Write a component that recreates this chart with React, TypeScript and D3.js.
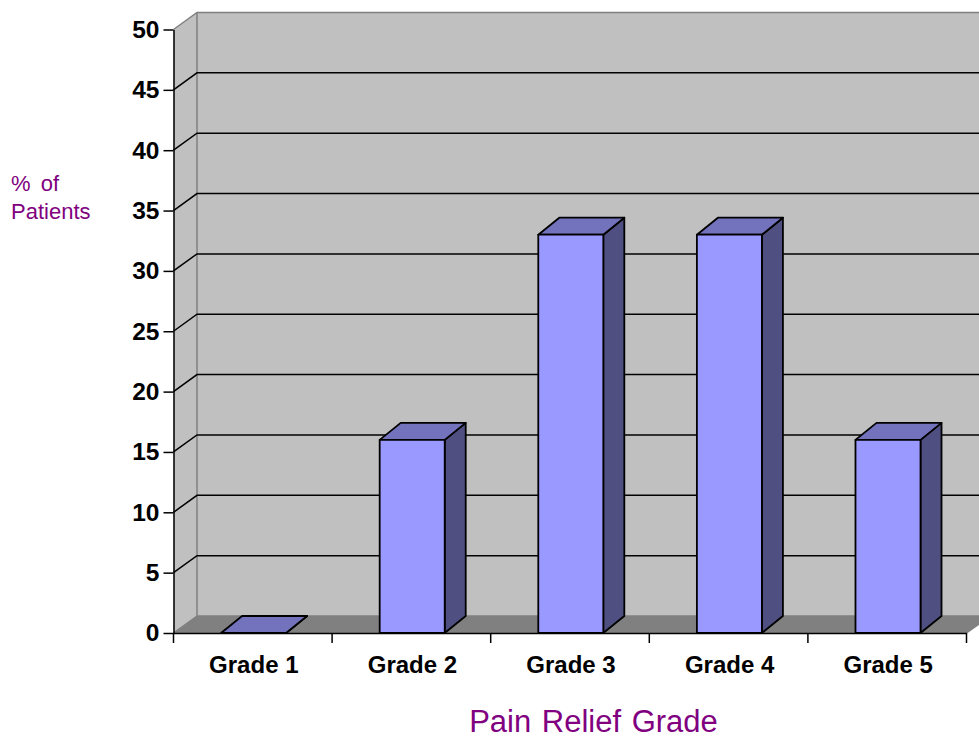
import React, { useRef, useEffect } from 'react';
import * as d3 from 'd3';

const grades: string[] = ['Grade 1', 'Grade 2', 'Grade 3', 'Grade 4', 'Grade 5'];
const patients: number[] = [0, 16, 33, 33, 16];
const yTicks: number[] = [0, 5, 10, 15, 20, 25, 30, 35, 40, 45, 50];

const App: React.FC = () => {
  const ref = useRef<SVGSVGElement | null>(null);

  useEffect(() => {
    if (!ref.current) return;
    const svg = d3.select(ref.current);
    svg.selectAll('*').remove();

    const width = 979;
    const height = 736;
    const left = 173.5;
    const right = 966.5;
    const bottom = 633;
    const top = 29.5;
    const wallDx = 23.5;
    const wallDy = 17;
    const barDx = 21;
    const barDy = 17;
    const barShift = 0.8;
    const font = '"Liberation Sans", Arial, sans-serif';

    const x = d3.scaleBand<string>()
      .domain(grades)
      .range([left, right])
      .paddingInner(0.59)
      .paddingOuter(0.295);

    const y = d3.scaleLinear()
      .domain([0, 50])
      .range([bottom, top]);

    const poly = (pts: [number, number][]) => d3.line()(pts) + 'Z';

    svg.attr('viewBox', [0, 0, width, height].join(' '))
      .attr('width', width)
      .attr('height', height)
      .style('position', 'absolute')
      .style('left', 0)
      .style('top', 0)
      .style('background', '#fff');

    // walls and floor
    svg.append('path')
      .attr('d', poly([[left + wallDx, top - wallDy], [right + wallDx, top - wallDy], [right + wallDx, bottom - wallDy], [left + wallDx, bottom - wallDy]]))
      .attr('fill', '#c0c0c0');
    svg.append('path')
      .attr('d', poly([[left, top], [left + wallDx, top - wallDy], [left + wallDx, bottom - wallDy], [left, bottom]]))
      .attr('fill', '#c0c0c0');
    svg.append('path')
      .attr('d', poly([[left, bottom], [left + wallDx, bottom - wallDy], [right + wallDx, bottom - wallDy], [right, bottom]]))
      .attr('fill', '#808080');

    // grey outlines of the box
    svg.append('path')
      .attr('d', d3.line()([[left, top], [left + wallDx, top - wallDy], [right + wallDx, top - wallDy]]))
      .attr('fill', 'none')
      .attr('stroke', '#808080')
      .attr('stroke-width', 1.5);
    svg.append('path')
      .attr('d', d3.line()([[left + wallDx, top - wallDy], [left + wallDx, bottom - wallDy], [left, bottom]]))
      .attr('fill', 'none')
      .attr('stroke', '#808080')
      .attr('stroke-width', 1.5);
    svg.append('path')
      .attr('d', d3.line()([[left + wallDx, bottom - wallDy], [right + wallDx, bottom - wallDy], [right, bottom]]))
      .attr('fill', 'none')
      .attr('stroke', '#808080')
      .attr('stroke-width', 1.5);

    // gridlines run along the side wall, then the back wall
    svg.append('g')
      .selectAll('path')
      .data(yTicks.filter(d => d > 0 && d < 50))
      .join('path')
      .attr('d', d => d3.line()([[left, y(d)], [left + wallDx, y(d) - wallDy], [right + wallDx, y(d) - wallDy]]))
      .attr('fill', 'none')
      .attr('stroke', '#000')
      .attr('stroke-width', 1.5);

    // bars
    const bars = svg.append('g')
      .attr('transform', `translate(${barShift},0)`)
      .selectAll('g')
      .data(grades.map((g, i) => ({ grade: g, value: patients[i] })))
      .join('g')
      .attr('stroke', '#000')
      .attr('stroke-width', 1.8)
      .attr('stroke-linejoin', 'round');

    bars.append('path')
      .attr('fill', '#4f4f81')
      .attr('d', d => {
        const x1 = (x(d.grade) as number) + x.bandwidth();
        return poly([[x1, y(d.value)], [x1 + barDx, y(d.value) - barDy], [x1 + barDx, bottom - barDy], [x1, bottom]]);
      });
    bars.append('path')
      .attr('fill', '#7373bd')
      .attr('d', d => {
        const x0 = x(d.grade) as number;
        const x1 = x0 + x.bandwidth();
        return poly([[x0, y(d.value)], [x0 + barDx, y(d.value) - barDy], [x1 + barDx, y(d.value) - barDy], [x1, y(d.value)]]);
      });
    bars.append('rect')
      .attr('fill', '#9999ff')
      .attr('x', d => x(d.grade) as number)
      .attr('y', d => y(d.value))
      .attr('width', x.bandwidth())
      .attr('height', d => bottom - y(d.value));

    // axes
    const yAxis = svg.append('g')
      .attr('transform', `translate(${left},0)`)
      .call(d3.axisLeft(y).tickValues(yTicks).tickSize(10).tickPadding(4).tickSizeOuter(0));
    yAxis.select('.domain').attr('stroke', '#000').attr('stroke-width', 1.5);
    yAxis.selectAll('.tick line').attr('stroke-width', 1.5);
    yAxis.selectAll('.tick text')
      .attr('font-family', font)
      .attr('font-size', 24.5)
      .attr('font-weight', 'bold')
      .attr('fill', '#000');

    const xAxis = svg.append('g')
      .attr('transform', `translate(0,${bottom})`)
      .call(d3.axisBottom(x).tickSize(0).tickPadding(23));
    xAxis.select('.domain').attr('stroke', '#000').attr('stroke-width', 1.5);
    xAxis.selectAll('.tick text')
      .attr('dx', 1)
      .attr('font-family', font)
      .attr('font-size', 24)
      .attr('font-weight', 'bold')
      .attr('fill', '#000');

    // category separators sit on the band edges
    svg.append('g')
      .selectAll('line')
      .data(d3.range(grades.length + 1))
      .join('line')
      .attr('x1', i => left + i * x.step())
      .attr('x2', i => left + i * x.step())
      .attr('y1', bottom)
      .attr('y2', bottom + 10)
      .attr('stroke', '#000')
      .attr('stroke-width', 1.5);

    // titles
    svg.append('text')
      .attr('x', 593.5)
      .attr('y', 732)
      .attr('text-anchor', 'middle')
      .attr('font-family', font)
      .attr('font-size', 31)
      .attr('word-spacing', 2)
      .attr('fill', '#800080')
      .text('Pain Relief Grade');

    const yTitle = svg.append('text')
      .attr('font-family', font)
      .attr('font-size', 22)
      .attr('word-spacing', 4)
      .attr('fill', '#800080');
    yTitle.append('tspan').attr('x', 11).attr('y', 191).text('% of');
    yTitle.append('tspan').attr('x', 11).attr('y', 219).text('Patients');
  }, []);

  return <svg ref={ref} />;
};

export default App;
